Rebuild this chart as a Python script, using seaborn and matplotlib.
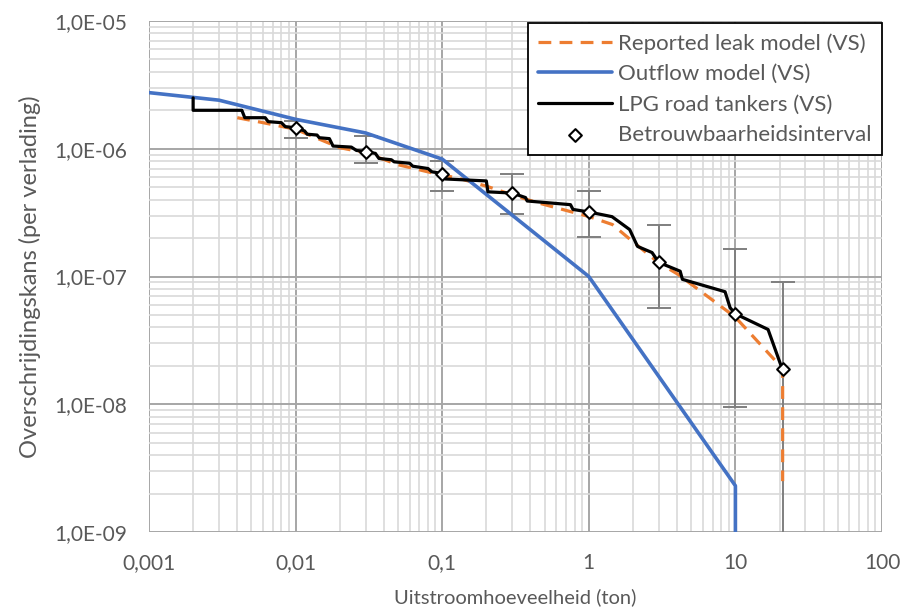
import numpy as np
import pandas as pd
import matplotlib
matplotlib.use("Agg")
import matplotlib.pyplot as plt
import seaborn as sns
from matplotlib.ticker import FixedLocator, LogLocator, NullFormatter, FixedFormatter

# ---- data ----
outflow_x = [0.001, 0.003, 0.01, 0.03, 0.1, 1.0, 10.0, 10.0]
outflow_y = [2.75e-6, 2.4e-6, 1.7e-6, 1.33e-6, 8.3e-7, 1.0e-7, 2.3e-9, 5e-10]

leak_x = [0.004, 0.006, 0.01, 0.02, 0.03, 0.05, 0.1, 0.126, 0.205, 0.3, 0.44, 0.667,
          1.0, 1.45, 2.0, 3.0, 4.06, 10.0, 21.0, 21.0]
leak_y = [1.75e-6, 1.6e-6, 1.42e-6, 1.02e-6, 9.3e-7, 7.5e-7, 6.2e-7, 5.93e-7, 5.05e-7,
          4.36e-7, 3.8e-7, 3.34e-7, 2.95e-7, 2.55e-7, 1.87e-7, 1.28e-7, 1.04e-7,
          4.8e-8, 1.9e-8, 2.5e-9]

lpg_x = [0.002, 0.002, 0.0043, 0.0045, 0.0062, 0.0065, 0.008, 0.0085, 0.01, 0.0115,
         0.012, 0.014, 0.0145, 0.017, 0.018, 0.024, 0.026, 0.03, 0.035, 0.037,
         0.045, 0.047, 0.06, 0.063, 0.08, 0.085, 0.1, 0.105, 0.2, 0.205, 0.3,
         0.37, 0.38, 0.75, 0.78, 1.0, 1.44, 1.9, 2.15, 2.7, 3.0, 4.2, 4.35, 8.5,
         9.2, 10.0, 16.7, 21.0]
lpg_y = [2.5e-6, 2.0e-6, 2.0e-6, 1.75e-6, 1.75e-6, 1.63e-6, 1.6e-6, 1.49e-6, 1.46e-6,
         1.38e-6, 1.3e-6, 1.28e-6, 1.22e-6, 1.2e-6, 1.05e-6, 1.03e-6, 9.7e-7, 9.5e-7,
         9.2e-7, 8.4e-7, 8.2e-7, 7.9e-7, 7.7e-7, 7.3e-7, 7.0e-7, 6.6e-7, 6.4e-7,
         5.8e-7, 5.6e-7, 4.6e-7, 4.5e-7, 4.15e-7, 3.9e-7, 3.65e-7, 3.35e-7, 3.2e-7,
         2.94e-7, 2.33e-7, 1.72e-7, 1.54e-7, 1.29e-7, 1.1e-7, 9.5e-8, 7.6e-8,
         5.7e-8, 5.1e-8, 3.85e-8, 1.85e-8]

ci_x = [0.01, 0.03, 0.1, 0.3, 1.0, 3.0, 10.0, 21.0]
ci_y = [1.46e-6, 9.5e-7, 6.4e-7, 4.5e-7, 3.2e-7, 1.29e-7, 5.1e-8, 1.88e-8]
ci_lo = [1.22e-6, 7.8e-7, 4.7e-7, 3.1e-7, 2.05e-7, 5.7e-8, 9.5e-9, 1e-10]
ci_hi = [1.65e-6, 1.26e-6, 8.0e-7, 6.3e-7, 4.7e-7, 2.55e-7, 1.65e-7, 9.0e-8]

x_ticks = [0.001, 0.01, 0.1, 1, 10, 100]
x_ticklabels = ["0,001", "0,01", "0,1", "1", "10", "100"]
y_ticks = [1e-9, 1e-8, 1e-7, 1e-6, 1e-5]
y_ticklabels = ["1,0E-09", "1,0E-08", "1,0E-07", "1,0E-06", "1,0E-05"]

# ---- style ----
sns.set_style("white")
plt.rcParams["font.family"] = ["Lato", "DejaVu Sans"]
TXT = "#595959"

fig = plt.figure(figsize=(9.04, 6.10), dpi=100)
ax = fig.add_axes([149 / 904, 1 - 532 / 610, (882 - 149) / 904, (532 - 21) / 610])
ax.set_xscale("log")
ax.set_yscale("log")

# error bars (behind lines)
ci_y_arr = np.array(ci_y)
yerr = [ci_y_arr - np.array(ci_lo), np.array(ci_hi) - ci_y_arr]
ax.errorbar(ci_x, ci_y, yerr=yerr, fmt="none", ecolor="#7f7f7f", elinewidth=1.4,
            capsize=8.5, capthick=1.4, zorder=2)

sns.lineplot(x=leak_x, y=leak_y, sort=False, estimator=None, ax=ax,
             color="#ED7D31", lw=2.3, linestyle=(0, (4, 2.6)),
             label="Reported leak model (VS)", zorder=3)
sns.lineplot(x=outflow_x, y=outflow_y, sort=False, estimator=None, ax=ax,
             color="#4472C4", lw=2.6, label="Outflow model (VS)", zorder=4)
sns.lineplot(x=lpg_x, y=lpg_y, sort=False, estimator=None, ax=ax,
             color="black", lw=2.3, label="LPG road tankers (VS)", zorder=5)
sns.scatterplot(x=ci_x, y=ci_y, ax=ax, marker="D", s=42, facecolor="white",
                edgecolor="black", linewidth=1.5, label="Betrouwbaarheidsinterval",
                zorder=6)

ax.set_xlim(0.001, 100)
ax.set_ylim(1e-9, 1e-5)

ax.xaxis.set_major_locator(FixedLocator(x_ticks))
ax.xaxis.set_major_formatter(FixedFormatter(x_ticklabels))
ax.yaxis.set_major_locator(FixedLocator(y_ticks))
ax.yaxis.set_major_formatter(FixedFormatter(y_ticklabels))
ax.xaxis.set_minor_locator(LogLocator(base=10, subs=np.arange(2, 10), numticks=20))
ax.yaxis.set_minor_locator(LogLocator(base=10, subs=np.arange(2, 10), numticks=20))
ax.xaxis.set_minor_formatter(NullFormatter())
ax.yaxis.set_minor_formatter(NullFormatter())

ax.grid(True, which="major", color="#a6a6a6", lw=1.4, zorder=0)
ax.grid(True, which="minor", color="#d9d9d9", lw=1.2, zorder=0)
ax.set_axisbelow(True)
for s in ax.spines.values():
    s.set_visible(False)

ax.tick_params(axis="both", which="both", length=0, labelsize=15, labelcolor=TXT)
ax.tick_params(axis="x", pad=15)
ax.tick_params(axis="y", pad=16)

ax.set_xlabel("Uitstroomhoeveelheid (ton)", fontsize=14.5, color=TXT, labelpad=11)
ax.set_ylabel("Overschrijdingskans (per verlading)", fontsize=17, color=TXT,
              labelpad=9)

leg = ax.legend(loc="upper right", bbox_to_anchor=(1.003, 1.0), borderaxespad=0.1,
                fontsize=16, frameon=True, fancybox=False, handlelength=3.3,
                labelspacing=0.47, borderpad=0.45, handletextpad=0.3)
leg.get_frame().set_edgecolor("black")
leg.get_frame().set_linewidth(1.3)
leg.get_frame().set_alpha(1)
for t in leg.get_texts():
    t.set_color(TXT)

fig.savefig("out.png", dpi=100)
